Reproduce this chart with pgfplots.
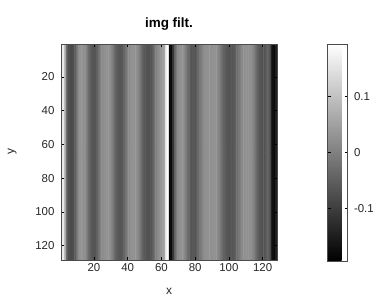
\documentclass[border=0pt]{standalone}
\usepackage{pgfplots}
\pgfplotsset{compat=1.18}
\usepackage{pgfplotstable}
\usepackage{fontspec}
\setmainfont{Liberation Sans}
\pgfplotstableread{
x y c
1 1 0.15
2 1 0.16
3 1 0.08
4 1 -0.03
5 1 -0.075
6 1 -0.08
7 1 -0.08
8 1 -0.075
9 1 -0.06
10 1 -0.02
11 1 0.015
12 1 0.025
13 1 0.025
14 1 0.025
15 1 0.02
16 1 -0.005
17 1 -0.03
18 1 -0.05
19 1 -0.065
20 1 -0.065
21 1 -0.065
22 1 -0.05
23 1 -0.025
24 1 0.0
25 1 0.015
26 1 0.02
27 1 0.025
28 1 0.025
29 1 0.025
30 1 0.02
31 1 0.0
32 1 -0.025
33 1 -0.045
34 1 -0.06
35 1 -0.065
36 1 -0.065
37 1 -0.06
38 1 -0.045
39 1 -0.02
40 1 0.0
41 1 0.015
42 1 0.025
43 1 0.025
44 1 0.025
45 1 0.025
46 1 0.02
47 1 0.0
48 1 -0.025
49 1 -0.045
50 1 -0.06
51 1 -0.065
52 1 -0.07
53 1 -0.07
54 1 -0.065
55 1 -0.05
56 1 -0.025
57 1 0.0
58 1 0.015
59 1 0.025
60 1 0.03
61 1 0.035
62 1 0.06
63 1 0.17
64 1 0.19
65 1 -0.19
66 1 -0.18
67 1 -0.12
68 1 -0.05
69 1 -0.01
70 1 0.015
71 1 0.025
72 1 0.025
73 1 0.025
74 1 0.015
75 1 -0.01
76 1 -0.035
77 1 -0.055
78 1 -0.065
79 1 -0.065
80 1 -0.065
81 1 -0.055
82 1 -0.035
83 1 -0.015
84 1 0.0
85 1 0.015
86 1 0.02
87 1 0.025
88 1 0.025
89 1 0.025
90 1 0.025
91 1 0.025
92 1 0.025
93 1 0.02
94 1 0.01
95 1 -0.01
96 1 -0.03
97 1 -0.045
98 1 -0.055
99 1 -0.065
100 1 -0.065
101 1 -0.065
102 1 -0.065
103 1 -0.06
104 1 -0.05
105 1 -0.03
106 1 -0.015
107 1 0.0
108 1 0.015
109 1 0.02
110 1 0.025
111 1 0.025
112 1 0.025
113 1 0.025
114 1 0.015
115 1 0.0
116 1 -0.02
117 1 -0.045
118 1 -0.06
119 1 -0.065
120 1 -0.07
121 1 -0.07
122 1 -0.06
123 1 -0.04
124 1 -0.06
125 1 -0.12
126 1 -0.17
127 1 -0.18
128 1 -0.15
1 128 0.15
2 128 0.16
3 128 0.08
4 128 -0.03
5 128 -0.075
6 128 -0.08
7 128 -0.08
8 128 -0.075
9 128 -0.06
10 128 -0.02
11 128 0.015
12 128 0.025
13 128 0.025
14 128 0.025
15 128 0.02
16 128 -0.005
17 128 -0.03
18 128 -0.05
19 128 -0.065
20 128 -0.065
21 128 -0.065
22 128 -0.05
23 128 -0.025
24 128 0.0
25 128 0.015
26 128 0.02
27 128 0.025
28 128 0.025
29 128 0.025
30 128 0.02
31 128 0.0
32 128 -0.025
33 128 -0.045
34 128 -0.06
35 128 -0.065
36 128 -0.065
37 128 -0.06
38 128 -0.045
39 128 -0.02
40 128 0.0
41 128 0.015
42 128 0.025
43 128 0.025
44 128 0.025
45 128 0.025
46 128 0.02
47 128 0.0
48 128 -0.025
49 128 -0.045
50 128 -0.06
51 128 -0.065
52 128 -0.07
53 128 -0.07
54 128 -0.065
55 128 -0.05
56 128 -0.025
57 128 0.0
58 128 0.015
59 128 0.025
60 128 0.03
61 128 0.035
62 128 0.06
63 128 0.17
64 128 0.19
65 128 -0.19
66 128 -0.18
67 128 -0.12
68 128 -0.05
69 128 -0.01
70 128 0.015
71 128 0.025
72 128 0.025
73 128 0.025
74 128 0.015
75 128 -0.01
76 128 -0.035
77 128 -0.055
78 128 -0.065
79 128 -0.065
80 128 -0.065
81 128 -0.055
82 128 -0.035
83 128 -0.015
84 128 0.0
85 128 0.015
86 128 0.02
87 128 0.025
88 128 0.025
89 128 0.025
90 128 0.025
91 128 0.025
92 128 0.025
93 128 0.02
94 128 0.01
95 128 -0.01
96 128 -0.03
97 128 -0.045
98 128 -0.055
99 128 -0.065
100 128 -0.065
101 128 -0.065
102 128 -0.065
103 128 -0.06
104 128 -0.05
105 128 -0.03
106 128 -0.015
107 128 0.0
108 128 0.015
109 128 0.02
110 128 0.025
111 128 0.025
112 128 0.025
113 128 0.025
114 128 0.015
115 128 0.0
116 128 -0.02
117 128 -0.045
118 128 -0.06
119 128 -0.065
120 128 -0.07
121 128 -0.07
122 128 -0.06
123 128 -0.04
124 128 -0.06
125 128 -0.12
126 128 -0.17
127 128 -0.18
128 128 -0.15
}\imgdata
\begin{document}
\begin{tikzpicture}
\path[use as bounding box] (0bp,0bp) rectangle (381bp,305bp);
\begin{axis}[
  at={(61bp,45bp)}, anchor=south west,
  scale only axis, width=216bp, height=216bp,
  xmin=0.5, xmax=128.5, ymin=0.5, ymax=128.5,
  y dir=reverse,
  axis on top,
  xtick={20,40,...,120}, ytick={20,40,...,120},
  tick align=inside, major tick length=3bp,
  xtick pos=both, ytick pos=both,
  xticklabel pos=bottom, yticklabel pos=left,
  axis line style={line width=0.5bp, black!70},
  tick style={line width=0.5bp, black},
  /pgf/number format/assume math mode=true,
  tick label style={font=\fontsize{11.5}{13}\selectfont, text=black!85},
  yticklabel style={xshift=-3bp},
  xlabel={x}, ylabel={y},
  label style={font=\fontsize{12}{14}\selectfont, text=black!85},
  xlabel style={yshift=-10bp},
  ylabel style={yshift=12bp},
  title={\bfseries img filt.},
  title style={font=\fontsize{13.5}{15}\selectfont, yshift=4bp},
  colormap={graymap}{gray(0cm)=(0); gray(1cm)=(1)},
  point meta min=-0.194, point meta max=0.194,
  colorbar,
  colorbar style={
    at={(parent axis.north east)}, anchor=north west, xshift=42bp,
    scale only axis, width=20bp, height=217bp,
    ytick={-0.1,0,0.1},
    yticklabel pos=right,
    ytick pos=both,
    tick align=inside, major tick length=3bp,
    axis line style={line width=0.5bp, black!70},
    /pgf/number format/assume math mode=true,
    yticklabel style={font=\fontsize{11.5}{13}\selectfont, text=black!85, xshift=3bp},
  },
]
\addplot[matrix plot*, shader=flat corner, mesh/cols=128, point meta=explicit] table[x=x, y=y, meta=c] {\imgdata};
\end{axis}
\end{tikzpicture}
\end{document}
